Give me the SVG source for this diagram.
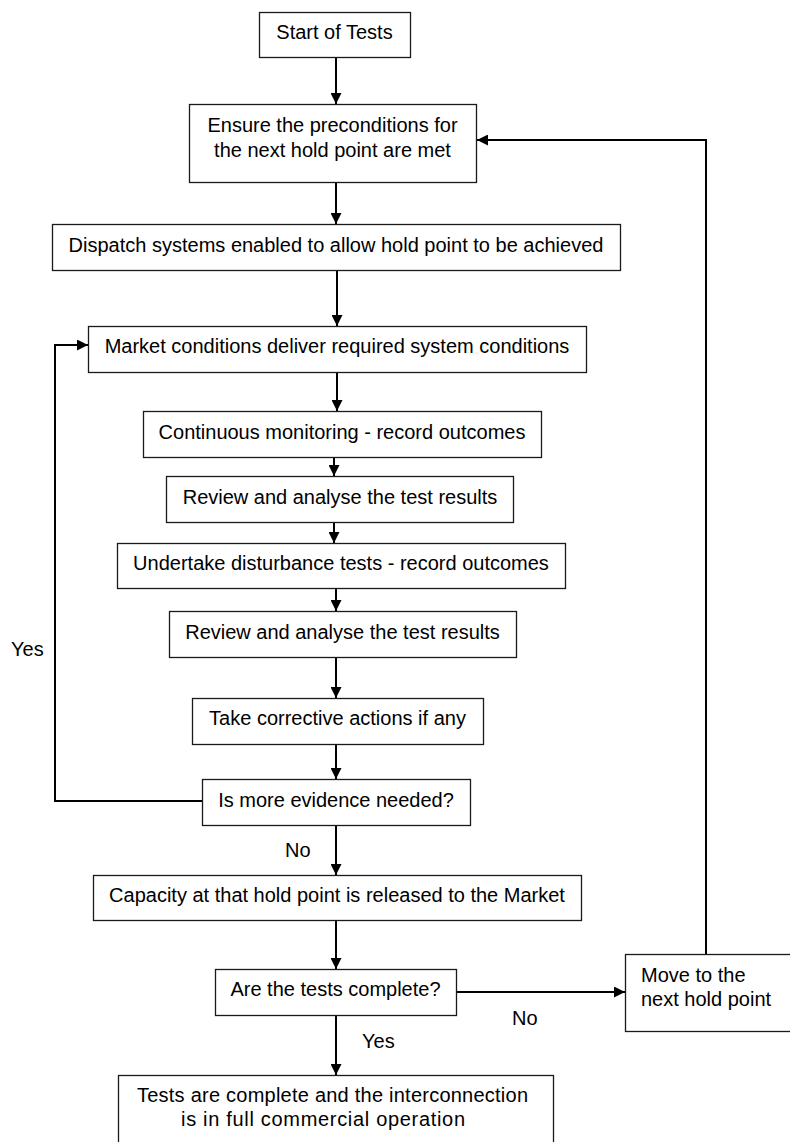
<svg xmlns="http://www.w3.org/2000/svg" width="790" height="1142" viewBox="0 0 790 1142">
<style>
.box{fill:#fff;stroke:#1a1a1a;stroke-width:1.3}
.t{font-family:"Liberation Sans",Arial,sans-serif;font-size:20px;fill:#000}
.c{text-anchor:middle}
.ln{fill:none;stroke:#000;stroke-width:2}
</style>
<defs>
<marker id="ah" viewBox="0 0 10 10" refX="10" refY="5" markerUnits="userSpaceOnUse" markerWidth="11" markerHeight="11" orient="auto">
<path d="M0,0 L10,5 L0,10 z" fill="#000"/>
</marker>
</defs>
<rect width="790" height="1142" fill="#fff"/>
<g id="connectors">
<path class="ln" d="M336,57 V104" marker-end="url(#ah)"/>
<path class="ln" d="M336,182 V224" marker-end="url(#ah)"/>
<path class="ln" d="M337,270 V326" marker-end="url(#ah)"/>
<path class="ln" d="M337,372 V411" marker-end="url(#ah)"/>
<path class="ln" d="M334,457 V476" marker-end="url(#ah)"/>
<path class="ln" d="M334,522 V543" marker-end="url(#ah)"/>
<path class="ln" d="M336,588 V611" marker-end="url(#ah)"/>
<path class="ln" d="M336,657 V698" marker-end="url(#ah)"/>
<path class="ln" d="M336,744 V779" marker-end="url(#ah)"/>
<path class="ln" d="M336,825 V875" marker-end="url(#ah)"/>
<path class="ln" d="M336,920 V969" marker-end="url(#ah)"/>
<path class="ln" d="M336,1015 V1075" marker-end="url(#ah)"/>
<path class="ln" d="M456,992 H625" marker-end="url(#ah)"/>
<path class="ln" d="M706,954 V140 H477" marker-end="url(#ah)"/>
<path class="ln" d="M202,801 H55 V345 H88" marker-end="url(#ah)"/>
<text class="t" x="11" y="656">Yes</text>
<text class="t" x="285" y="857">No</text>
<text class="t" x="512" y="1025">No</text>
<text class="t" x="362" y="1048">Yes</text>
</g>
<g id="start"><rect class="box" x="259.5" y="12.5" width="151" height="45"/><text class="t c" x="334.5" y="39">Start of Tests</text></g>
<g id="ensure"><rect class="box" x="189.5" y="104.5" width="287" height="78"/><text class="t c" x="332.5" y="132">Ensure the preconditions for</text><text class="t c" x="332.5" y="157">the next hold point are met</text></g>
<g id="dispatch"><rect class="box" x="52.5" y="224.5" width="568" height="46"/><text class="t c" x="336" y="252">Dispatch systems enabled to allow hold point to be achieved</text></g>
<g id="market"><rect class="box" x="88.5" y="326.5" width="498" height="46"/><text class="t c" x="337" y="353">Market conditions deliver required system conditions</text></g>
<g id="continuous"><rect class="box" x="143.5" y="411.5" width="398" height="46"/><text class="t c" x="342" y="438.5">Continuous monitoring - record outcomes</text></g>
<g id="review1"><rect class="box" x="166.5" y="476.5" width="347" height="46"/><text class="t c" x="340" y="503.5">Review and analyse the test results</text></g>
<g id="undertake"><rect class="box" x="117.5" y="543.5" width="448" height="45"/><text class="t c" x="341" y="570">Undertake disturbance tests - record outcomes</text></g>
<g id="review2"><rect class="box" x="169.5" y="611.5" width="347" height="46"/><text class="t c" x="342.5" y="638.5">Review and analyse the test results</text></g>
<g id="take"><rect class="box" x="192.5" y="698.5" width="291" height="46"/><text class="t c" x="337.5" y="725">Take corrective actions if any</text></g>
<g id="evidence"><rect class="box" x="202.5" y="779.5" width="268" height="46"/><text class="t c" x="336" y="806.5">Is more evidence needed?</text></g>
<g id="capacity"><rect class="box" x="93.5" y="875.5" width="488" height="45"/><text class="t c" x="337" y="902">Capacity at that hold point is released to the Market</text></g>
<g id="complete"><rect class="box" x="215.5" y="969.5" width="241" height="46"/><text class="t c" x="335.5" y="996">Are the tests complete?</text></g>
<g id="move"><rect class="box" x="625.5" y="954.5" width="170" height="77"/><text class="t" x="641" y="982">Move to the</text><text class="t" x="641" y="1006">next hold point</text></g>
<g id="final"><rect class="box" x="118.5" y="1075.5" width="435" height="75"/><text class="t" x="137" y="1102" textLength="391" lengthAdjust="spacing">Tests are complete and the interconnection</text><text class="t" x="181" y="1126" textLength="284" lengthAdjust="spacing">is in full commercial operation</text></g>
</svg>
